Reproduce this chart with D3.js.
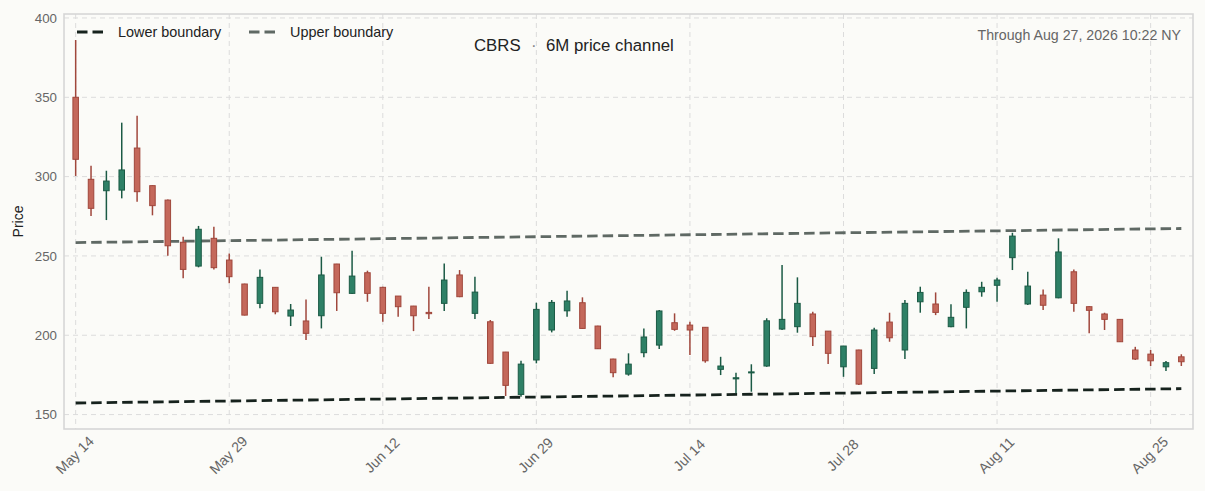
<!DOCTYPE html>
<html>
<head>
<meta charset="utf-8">
<script src="https://cdn.jsdelivr.net/npm/d3@7"></script>
<style>
  html, body { margin: 0; padding: 0; background: #fbfbf8; }
  svg { display: block; font-family: "Liberation Sans", Arial, sans-serif; }
</style>
</head>
<body>
<div id="chart"></div>
<script>
// trading days, one per candle
const dates = [
  "2026-05-14","2026-05-15","2026-05-18","2026-05-19","2026-05-20","2026-05-21","2026-05-22",
  "2026-05-26","2026-05-27","2026-05-28","2026-05-29",
  "2026-06-01","2026-06-02","2026-06-03","2026-06-04","2026-06-05",
  "2026-06-08","2026-06-09","2026-06-10","2026-06-11","2026-06-12",
  "2026-06-15","2026-06-16","2026-06-17","2026-06-18",
  "2026-06-22","2026-06-23","2026-06-24","2026-06-25","2026-06-26",
  "2026-06-29","2026-06-30","2026-07-01","2026-07-02",
  "2026-07-06","2026-07-07","2026-07-08","2026-07-09","2026-07-10",
  "2026-07-13","2026-07-14","2026-07-15","2026-07-16","2026-07-17",
  "2026-07-20","2026-07-21","2026-07-22","2026-07-23","2026-07-24",
  "2026-07-27","2026-07-28","2026-07-29","2026-07-30","2026-07-31",
  "2026-08-03","2026-08-04","2026-08-05","2026-08-06","2026-08-07",
  "2026-08-10","2026-08-11","2026-08-12","2026-08-13","2026-08-14",
  "2026-08-17","2026-08-18","2026-08-19","2026-08-20","2026-08-21",
  "2026-08-24","2026-08-25","2026-08-26","2026-08-27"
];

const open = [
  350, 298.3, 291.1, 291.5, 318, 294.3, 285.2, 258.6, 243.6, 261.1,
  247.4, 232.3, 220.1, 230.2, 212.1, 209, 212.3, 244.9, 226.4, 239.4,
  230.2, 224.7, 218.4, 214.4, 220.1, 238, 213.8, 208.5, 189.4, 162.7,
  184.4, 203.3, 215.4, 220.5, 205.8, 185, 175.5, 189, 193.8, 207.9,
  206.4, 205, 178.5, 172.5, 176.3, 180.6, 203.9, 205.4, 213.4, 202.6,
  180.1, 190.7, 179.1, 208.3, 190.7, 221.1, 219.7, 205.4, 217.6, 227.4,
  231.5, 248.9, 219.7, 225.3, 223.6, 240, 218, 213.4, 210, 190.7,
  188.1, 180.1, 186.4
];
const high = [
  386.1, 306.9, 303.7, 334, 338.4, 294.5, 285.5, 262.1, 268.9, 268.4,
  251.6, 232.5, 241.5, 230.3, 219.7, 222.6, 249.5, 245, 253.3, 240.7,
  230.5, 224.8, 218.5, 230.6, 245.3, 241.1, 236.9, 209.6, 189.5, 183.9,
  220.5, 222.2, 228.1, 223.9, 206, 185.2, 188.6, 204.3, 215.9, 213.8,
  208.5, 205.2, 186.4, 176.4, 181.7, 210.7, 244.3, 236.5, 214.8, 202.7,
  193.3, 190.8, 204.7, 214.2, 222.2, 230.6, 227, 219.5, 228.9, 233.7,
  236.3, 264.6, 240, 228.9, 261.1, 241.5, 218.3, 214.2, 210.3, 192.7,
  190.7, 183.7, 188
];
const low = [
  300.4, 275.2, 272.6, 286.3, 284.2, 275.6, 250.1, 235.9, 242.8, 241.5,
  232.7, 212.5, 217, 213.2, 205.8, 197, 204.3, 215.3, 226, 221.1,
  208.5, 211.7, 202.6, 210.2, 215.3, 224, 210.2, 182, 161.7, 161.2,
  182.3, 201.8, 211.7, 204, 191.3, 173.5, 174.5, 186.1, 191.3, 202.8,
  187.5, 182.7, 174.9, 163.4, 164.4, 180.1, 203.3, 201.6, 193.2, 181.8,
  173.8, 168.6, 175.5, 195.9, 185, 214.2, 212.7, 205, 204.3, 224.3,
  221.1, 241.1, 219, 215.9, 223.3, 214.8, 201.2, 203.3, 195.7, 184.4,
  180.6, 177.4, 180.6
];
const close = [
  310.9, 280, 297.2, 304.2, 290.5, 281.7, 256.4, 241.5, 266.8, 242.6,
  236.9, 212.7, 236.5, 214.8, 215.9, 201.2, 238, 226.8, 237.3, 226.4,
  213.8, 218, 212.3, 213.6, 234.8, 224.3, 227.2, 182.3, 168.4, 181.8,
  216.3, 220.7, 221.6, 204.3, 191.5, 176.4, 181.8, 198.9, 215.3, 203.7,
  203.3, 183.9, 180.6, 173.2, 176.9, 209.1, 210, 220.1, 199.1, 188.6,
  193.2, 169.2, 203.3, 198.4, 220.1, 227, 214.4, 211.3, 227, 230.2,
  234.8, 262.5, 231, 218.9, 252.5, 220.1, 215.7, 210, 195.9, 185,
  183.9, 182.7, 183.3
];

// channel boundaries at first and last candle
const lowerBoundary = [157.3, 166.3];
const upperBoundary = [258.4, 267.3];

const tickLabels = ["May 14", "May 29", "Jun 12", "Jun 29", "Jul 14", "Jul 28", "Aug 11", "Aug 25"];
const tickDates = ["2026-05-14", "2026-05-29", "2026-06-12", "2026-06-29", "2026-07-14", "2026-07-28", "2026-08-11", "2026-08-25"];
const yTicks = [150, 200, 250, 300, 350, 400];

const W = 1205, H = 491;
const plot = {left: 64, top: 14, right: 1193, bottom: 429};

const candles = dates.map((d, i) => ({i: i, date: d, o: open[i], h: high[i], l: low[i], c: close[i]}));

const svg = d3.select("#chart").append("svg")
    .attr("width", W)
    .attr("height", H);

svg.append("rect")
    .attr("width", W).attr("height", H)
    .attr("fill", "#fbfbf8");

// x is index of the trading day
const x = d3.scaleLinear()
    .domain([-0.76, dates.length - 1 + 0.76])
    .range([plot.left, plot.right]);

const y = d3.scaleLinear()
    .domain([140.9, 402.5])
    .range([plot.bottom, plot.top]);

const tickIdx = tickDates.map(d => dates.indexOf(d));

// Grid
const grid = svg.append("g").attr("stroke", "#dcdcdc").attr("stroke-width", 1).attr("stroke-dasharray", "5,4");
grid.selectAll(".gx").data(tickIdx).join("line")
    .attr("x1", d => x(d)).attr("x2", d => x(d))
    .attr("y1", plot.top).attr("y2", plot.bottom);
grid.selectAll(".gy").data(yTicks).join("line")
    .attr("x1", plot.left).attr("x2", plot.right)
    .attr("y1", d => y(d)).attr("y2", d => y(d));

// Axes (labels only)
const yAxis = svg.append("g")
    .attr("transform", `translate(${plot.left},0)`)
    .call(d3.axisLeft(y).tickValues(yTicks).tickSize(0).tickPadding(7));
yAxis.select(".domain").remove();
yAxis.selectAll("text")
    .attr("fill", "#666")
    .style("font-size", "13.3px")
    .style("font-family", "'Liberation Sans', Arial, sans-serif");

const xAxis = svg.append("g")
    .attr("transform", `translate(0,${plot.bottom})`)
    .call(d3.axisBottom(x).tickValues(tickIdx).tickSize(0).tickFormat((d, i) => tickLabels[i]));
xAxis.select(".domain").remove();
xAxis.selectAll("text")
    .attr("y", 0).attr("dy", 0)
    .attr("transform", "translate(-0.5,27) rotate(-45)")
    .style("text-anchor", "middle")
    .attr("dominant-baseline", "middle")
    .attr("fill", "#666")
    .style("font-size", "14.2px")
    .style("font-family", "'Liberation Sans', Arial, sans-serif");

// Y label
svg.append("text")
    .attr("transform", `translate(23,${(plot.top + plot.bottom) / 2}) rotate(-90)`)
    .attr("text-anchor", "middle")
    .attr("fill", "#222")
    .style("font-size", "14px")
    .text("Price");

// Channel lines
const first = 0, last = dates.length - 1;
svg.append("line")
    .attr("x1", x(first)).attr("x2", x(last))
    .attr("y1", y(upperBoundary[0])).attr("y2", y(upperBoundary[1]))
    .attr("stroke", "#5f6964").attr("stroke-width", 2.8)
    .attr("stroke-dasharray", "10.5,5");
svg.append("line")
    .attr("x1", x(first)).attr("x2", x(last))
    .attr("y1", y(lowerBoundary[0])).attr("y2", y(lowerBoundary[1]))
    .attr("stroke", "#16221d").attr("stroke-width", 2.8)
    .attr("stroke-dasharray", "10.5,5");

// Candles
const up = {fill: "#2e8066", stroke: "#1b5a45"};
const down = {fill: "#c4685b", stroke: "#a0473c"};
const bodyW = 0.36 * (x(1) - x(0));

const g = svg.append("g");
g.selectAll(".wick").data(candles).join("line")
    .attr("x1", d => x(d.i)).attr("x2", d => x(d.i))
    .attr("y1", d => y(d.h)).attr("y2", d => y(d.l))
    .attr("stroke", d => d.c >= d.o ? up.stroke : down.stroke)
    .attr("stroke-width", 1.5);
g.selectAll(".body").data(candles).join("rect")
    .attr("x", d => x(d.i) - bodyW / 2)
    .attr("width", bodyW)
    .attr("y", d => y(Math.max(d.o, d.c)))
    .attr("height", d => Math.max(1, Math.abs(y(d.o) - y(d.c))))
    .attr("fill", d => d.c >= d.o ? up.fill : down.fill)
    .attr("stroke", d => d.c >= d.o ? up.stroke : down.stroke)
    .attr("stroke-width", 1);

// Frame
svg.append("rect")
    .attr("x", plot.left).attr("y", plot.top)
    .attr("width", plot.right - plot.left).attr("height", plot.bottom - plot.top)
    .attr("fill", "none").attr("stroke", "#d6d6d6").attr("stroke-width", 1.6);

// Legend
const legend = [
  {label: "Lower boundary", color: "#16221d", x0: 77},
  {label: "Upper boundary", color: "#5f6964", x0: 249}
];
const lg = svg.append("g").selectAll("g").data(legend).join("g")
    .attr("transform", d => `translate(${d.x0},32)`);
lg.append("line")
    .attr("x1", 0).attr("x2", 29).attr("y1", 0).attr("y2", 0)
    .attr("stroke", d => d.color).attr("stroke-width", 2.8)
    .attr("stroke-dasharray", "10.5,5");
lg.append("text")
    .attr("x", 41).attr("y", 0).attr("dy", "0.35em")
    .attr("fill", "#222")
    .style("font-size", "14.4px")
    .text(d => d.label);

// Title
const title = svg.append("text")
    .attr("x", 474).attr("y", 45).attr("dy", "0.35em")
    .attr("fill", "#222")
    .style("font-size", "16.8px");
title.append("tspan").text("CBRS");
title.append("tspan").attr("x", 531).attr("fill", "#888").text("·");
title.append("tspan").attr("x", 546).text("6M price channel");

svg.append("text")
    .attr("x", 1181).attr("y", 35).attr("dy", "0.35em")
    .attr("text-anchor", "end")
    .attr("fill", "#666")
    .style("font-size", "14.2px")
    .text("Through Aug 27, 2026 10:22 NY");
</script>
</body>
</html>
